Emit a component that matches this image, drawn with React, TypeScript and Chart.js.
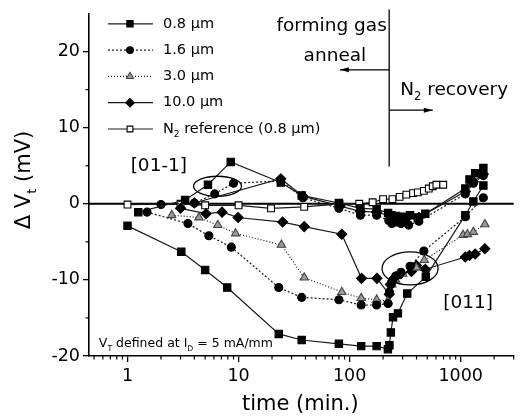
import React, { useEffect, useRef } from 'react';
import { Chart, registerables } from 'chart.js';
import { drawPoint } from 'chart.js/helpers';

Chart.register(...registerables);

const FONT = '"DejaVu Sans", "Liberation Sans", sans-serif';

// ---- data: time (min.) and ΔVt (mV) ----
// 0.8 µm, [01-1]
const t08u = [1.25, 3.3, 5.3, 8.5, 24, 37, 80, 125, 175, 222, 238, 262, 300, 350, 410, 480, 1100, 1200, 1350, 1600];
const v08u = [-1.1, 0.5, 2.5, 5.5, 2.8, 1.1, 0.1, -0.6, -0.7, -1.2, -1.5, -1.6, -1.7, -1.5, -1.8, -1.3, 2.0, 3.2, 4.0, 4.7];
// 1.6 µm, [01-1]
const t16u = [2.0, 4.0, 6.1, 9.0, 24, 38, 80, 125, 175, 225, 240, 262, 290, 340, 420, 1100, 1300, 1600];
const v16u = [-0.1, 0.1, 1.3, 2.7, 3.0, 0.8, -0.6, -1.5, -1.5, -2.2, -2.6, -2.4, -2.6, -2.8, -2.3, 1.3, 2.7, 3.7];
// 10.0 µm, [01-1]
const t10u = [4.0, 24, 38, 82, 125, 175, 230, 250, 275, 320, 420, 1100, 1300, 1600];
const v10u = [0.1, 3.3, 1.0, -0.3, -1.0, -1.1, -1.6, -1.9, -1.8, -2.0, -1.8, 1.6, 2.9, 3.9];
// 0.8 µm, [011]
const t08l = [1, 3.05, 5.0, 7.9, 23, 37, 80, 127, 175, 221, 228, 235, 246, 272, 330, 485, 1100, 1300, 1600];
const v08l = [-2.9, -6.3, -8.7, -11.0, -17.1, -17.9, -18.4, -18.7, -18.7, -19.1, -18.6, -16.9, -14.9, -14.4, -11.8, -9.6, -1.5, 0.3, 2.4];
// 1.6 µm, [011]
const t16l = [1.5, 3.5, 5.4, 8.6, 23, 37, 80, 127, 175, 222, 228, 235, 245, 260, 290, 350, 466, 1100, 1600];
const v16l = [-1.1, -2.6, -4.2, -5.7, -11.0, -12.3, -12.6, -13.3, -13.3, -13.1, -11.6, -10.6, -10.0, -9.5, -9.0, -8.2, -6.2, -1.7, 0.8];
// 3.0 µm, [011]
const t30l = [2.5, 4.4, 6.5, 9.4, 24.3, 39, 85, 127, 175, 221, 230, 240, 260, 300, 400, 470, 1050, 1150, 1300, 1650];
const v30l = [-1.5, -1.8, -2.8, -3.9, -5.4, -9.7, -11.6, -12.4, -12.6, -12.8, -11.5, -10.6, -10.0, -9.2, -8.4, -7.4, -4.1, -4.0, -3.7, -2.7];
// 10.0 µm, [011]
const t10l = [3.0, 5.1, 7.1, 9.9, 24.9, 39, 85, 128, 176, 227, 233, 245, 262, 290, 360, 400, 480, 1100, 1200, 1350, 1650];
const v10l = [-0.6, -1.3, -1.1, -1.8, -2.4, -3.0, -4.0, -9.8, -9.8, -11.9, -10.6, -10.1, -9.6, -9.2, -8.9, -8.1, -8.6, -7.0, -6.8, -6.6, -5.9];
// N2 reference (0.8 µm)
const tN2 = [1, 3, 5, 10, 19.6, 39, 81, 122, 161, 200, 243, 282, 324, 372, 411, 466, 516, 560, 604, 696];
const vN2 = [-0.1, 0, -0.2, -0.2, -0.6, -0.4, 0, 0, 0.2, 0.6, 0.6, 0.9, 1.2, 1.4, 1.5, 1.7, 2.0, 2.3, 2.5, 2.5];

const X_TICKS = [1, 10, 100, 1000];
const Y_TICKS = [-20, -10, 0, 10, 20];
const Y_MINOR = [-15, -5, 5, 15];

const STYLES: any = {
  w08: { pointStyle: 'rect', radius: 5.2, fill: '#000', border: '#000', dash: [] },
  w16: { pointStyle: 'circle', radius: 4, fill: '#000', border: '#000', dash: [2, 2] },
  w30: { pointStyle: 'triangle', radius: 4.8, fill: '#9a9a9a', border: '#444', dash: [1, 2] },
  w10: { pointStyle: 'rectRot', radius: 5, fill: '#000', border: '#000', dash: [] },
  n2: { pointStyle: 'rect', radius: 4.8, fill: '#fff', border: '#000', dash: [] },
};

const LEGEND = [
  { key: 'w08', parts: [{ t: '0.8 µm' }] },
  { key: 'w16', parts: [{ t: '1.6 µm' }] },
  { key: 'w30', parts: [{ t: '3.0 µm' }] },
  { key: 'w10', parts: [{ t: '10.0 µm' }] },
  { key: 'n2', parts: [{ t: 'N' }, { t: '2', sub: true }, { t: ' reference (0.8 µm)' }] },
];

function mk(ts: number[], vs: number[], key: string) {
  const st = STYLES[key];
  return {
    data: ts.map((t, i) => ({ x: t, y: vs[i] })),
    showLine: true,
    borderColor: '#1a1a1a',
    borderWidth: 1.2,
    borderDash: st.dash,
    pointStyle: st.pointStyle,
    pointRadius: st.radius,
    pointBackgroundColor: st.fill,
    pointBorderColor: st.border,
    pointBorderWidth: 1.1,
    fill: false,
    tension: 0,
  };
}

function drawParts(ctx: CanvasRenderingContext2D, parts: any[], x: number, y: number, size: number, align: string) {
  let w = 0;
  const widths = parts.map((p) => {
    ctx.font = `${p.sub ? size * 0.62 : size}px ${FONT}`;
    const m = ctx.measureText(p.t).width;
    w += m;
    return m;
  });
  let cx = align === 'center' ? x - w / 2 : align === 'right' ? x - w : x;
  ctx.textAlign = 'left';
  ctx.textBaseline = 'middle';
  ctx.fillStyle = '#000';
  parts.forEach((p, i) => {
    ctx.font = `${p.sub ? size * 0.62 : size}px ${FONT}`;
    ctx.fillText(p.t, cx, p.sub ? y + size * 0.38 : y);
    cx += widths[i];
  });
}

function arrow(ctx: CanvasRenderingContext2D, x0: number, x1: number, y: number) {
  ctx.beginPath();
  ctx.moveTo(x0, y);
  ctx.lineTo(x1, y);
  ctx.stroke();
  const d = x1 > x0 ? 1 : -1;
  ctx.beginPath();
  ctx.moveTo(x1, y);
  ctx.lineTo(x1 - d * 9, y - 2.5);
  ctx.lineTo(x1 - d * 9, y + 2.5);
  ctx.closePath();
  ctx.fill();
}

const annot = {
  id: 'annot',
  beforeDatasetsDraw(chart: any) {
    const { ctx, chartArea: a, scales } = chart;
    const y0 = scales.y.getPixelForValue(0);
    ctx.save();
    ctx.strokeStyle = '#000';
    ctx.lineWidth = 1.9;
    ctx.beginPath();
    ctx.moveTo(a.left, y0);
    ctx.lineTo(a.right, y0);
    ctx.stroke();
    ctx.restore();
  },
  afterDatasetsDraw(chart: any) {
    const { ctx, chartArea: a, scales } = chart;
    const X = (v: number) => scales.x.getPixelForValue(v);
    const Y = (v: number) => scales.y.getPixelForValue(v);
    ctx.save();
    ctx.strokeStyle = '#000';
    ctx.fillStyle = '#000';
    ctx.lineWidth = 1.3;
    // divider between anneal and recovery
    const xd = X(227);
    ctx.beginPath();
    ctx.moveTo(xd, a.top - 4);
    ctx.lineTo(xd, Y(4.9));
    ctx.stroke();
    arrow(ctx, xd, X(81.6), Y(17.6));
    arrow(ctx, xd, X(561), Y(12.3));
    // ellipses
    ctx.lineWidth = 1.3;
    ctx.beginPath();
    ctx.ellipse(X(6.46), Y(2.3), 24, 10, 0, 0, Math.PI * 2);
    ctx.stroke();
    ctx.beginPath();
    ctx.ellipse(X(350), Y(-8.5), 28, 16.5, 0, 0, Math.PI * 2);
    ctx.stroke();
    // texts
    drawParts(ctx, [{ t: 'forming gas' }], X(216), Y(23.3), 18.5, 'right');
    drawParts(ctx, [{ t: 'anneal' }], X(73.7), Y(19.4), 18.5, 'center');
    drawParts(ctx, [{ t: 'N' }, { t: '2', sub: true }, { t: ' recovery' }], X(285), Y(14.9), 18.5, 'left');
    drawParts(ctx, [{ t: '[01-1]' }], X(1.915), Y(5.0), 18.5, 'center');
    drawParts(ctx, [{ t: '[011]' }], X(1166), Y(-13.0), 18.5, 'center');
    drawParts(
      ctx,
      [{ t: 'V' }, { t: 'T', sub: true }, { t: ' defined at I' }, { t: 'D', sub: true }, { t: ' = 5 mA/mm' }],
      X(0.552), Y(-18.4), 12.5, 'left'
    );
    ctx.restore();
  },
  afterDraw(chart: any) {
    const { ctx, chartArea: a, scales } = chart;
    ctx.save();
    ctx.strokeStyle = '#000';
    ctx.lineWidth = 1.2;
    // minor x ticks
    const xs = scales.x;
    [0.1, 1, 10, 100, 1000].forEach((dec) => {
      for (let k = 2; k <= 9; k++) {
        const v = k * dec;
        if (v < xs.min || v > xs.max) continue;
        const px = xs.getPixelForValue(v);
        ctx.beginPath();
        ctx.moveTo(px, a.bottom);
        ctx.lineTo(px, a.bottom + 3.5);
        ctx.stroke();
      }
    });
    // minor y ticks
    Y_MINOR.forEach((v) => {
      const py = scales.y.getPixelForValue(v);
      ctx.beginPath();
      ctx.moveTo(a.left, py);
      ctx.lineTo(a.left - 3.5, py);
      ctx.stroke();
    });
    // axis titles
    drawParts(ctx, [{ t: 'time (min.)' }], (a.left + a.right) / 2 - 1, 405, 21, 'center');
    ctx.save();
    ctx.translate(25, 180);
    ctx.rotate(-Math.PI / 2);
    drawParts(ctx, [{ t: 'Δ V' }, { t: 't', sub: true }, { t: ' (mV)' }], 0, 0, 21, 'center');
    ctx.restore();
    // legend
    const lx0 = a.left + 19;
    const lx1 = a.left + 64;
    const lm = a.left + 41;
    const ltx = a.left + 74;
    LEGEND.forEach((item, i) => {
      const st = STYLES[item.key];
      const y = a.top + 10.3 + i * 26.3;
      ctx.save();
      ctx.strokeStyle = '#1a1a1a';
      ctx.lineWidth = 1.2;
      ctx.setLineDash(st.dash);
      ctx.beginPath();
      ctx.moveTo(lx0, y);
      ctx.lineTo(lx1, y);
      ctx.stroke();
      ctx.setLineDash([]);
      ctx.fillStyle = st.fill;
      ctx.strokeStyle = st.border;
      ctx.lineWidth = 1.1;
      drawPoint(ctx, { pointStyle: st.pointStyle, radius: st.radius * 0.85, rotation: 0, borderWidth: 1 }, lm, y);
      ctx.restore();
      drawParts(ctx, item.parts, ltx, y, 14.5, 'left');
    });
    ctx.restore();
  },
};

export default function App() {
  const ref = useRef<HTMLCanvasElement | null>(null);
  useEffect(() => {
    if (!ref.current) return;
    const axisCommon = {
      grid: { display: true, drawOnChartArea: false, drawTicks: true, tickLength: 6, color: '#000', lineWidth: 1.3 },
      border: { display: true, color: '#000', width: 1.6 },
    };
    const chart = new Chart(ref.current, {
      type: 'scatter',
      data: {
        datasets: [
          mk(t08l, v08l, 'w08'),
          mk(t16l, v16l, 'w16'),
          mk(t30l, v30l, 'w30'),
          mk(t10l, v10l, 'w10'),
          mk(t08u, v08u, 'w08'),
          mk(t16u, v16u, 'w16'),
          mk(t10u, v10u, 'w10'),
          mk(tN2, vN2, 'n2'),
        ] as any,
      },
      options: {
        animation: false,
        responsive: false,
        devicePixelRatio: 1,
        layout: { padding: { top: 7, right: 1, left: 0, bottom: 0 } },
        plugins: { legend: { display: false }, tooltip: { enabled: false }, title: { display: false } },
        scales: {
          x: {
            type: 'logarithmic',
            position: 'bottom',
            min: 0.45,
            max: 3000,
            afterBuildTicks: (s: any) => {
              s.ticks = X_TICKS.map((v) => ({ value: v, major: true }));
            },
            afterFit: (s: any) => {
              s.height = 63;
            },
            ticks: {
              autoSkip: false,
              maxRotation: 0,
              padding: 4,
              color: '#000',
              font: { family: FONT, size: 17.5 },
              callback: (v: any) => String(v),
            },
            ...axisCommon,
          },
          y: {
            type: 'linear',
            min: -20,
            max: 25,
            afterBuildTicks: (s: any) => {
              s.ticks = Y_TICKS.map((v) => ({ value: v }));
            },
            afterFit: (s: any) => {
              s.width = 89;
            },
            ticks: {
              autoSkip: false,
              padding: 3,
              color: '#000',
              font: { family: FONT, size: 17.5 },
              callback: (v: any) => String(v),
            },
            ...axisCommon,
          },
        },
      } as any,
      plugins: [annot],
    });
    return () => chart.destroy();
  }, []);
  return (
    <div style={{ position: 'absolute', left: 0, top: 0, width: 520, height: 419, background: '#fff' }}>
      <canvas ref={ref} width={520} height={419} style={{ width: 520, height: 419, display: 'block' }} />
    </div>
  );
}
